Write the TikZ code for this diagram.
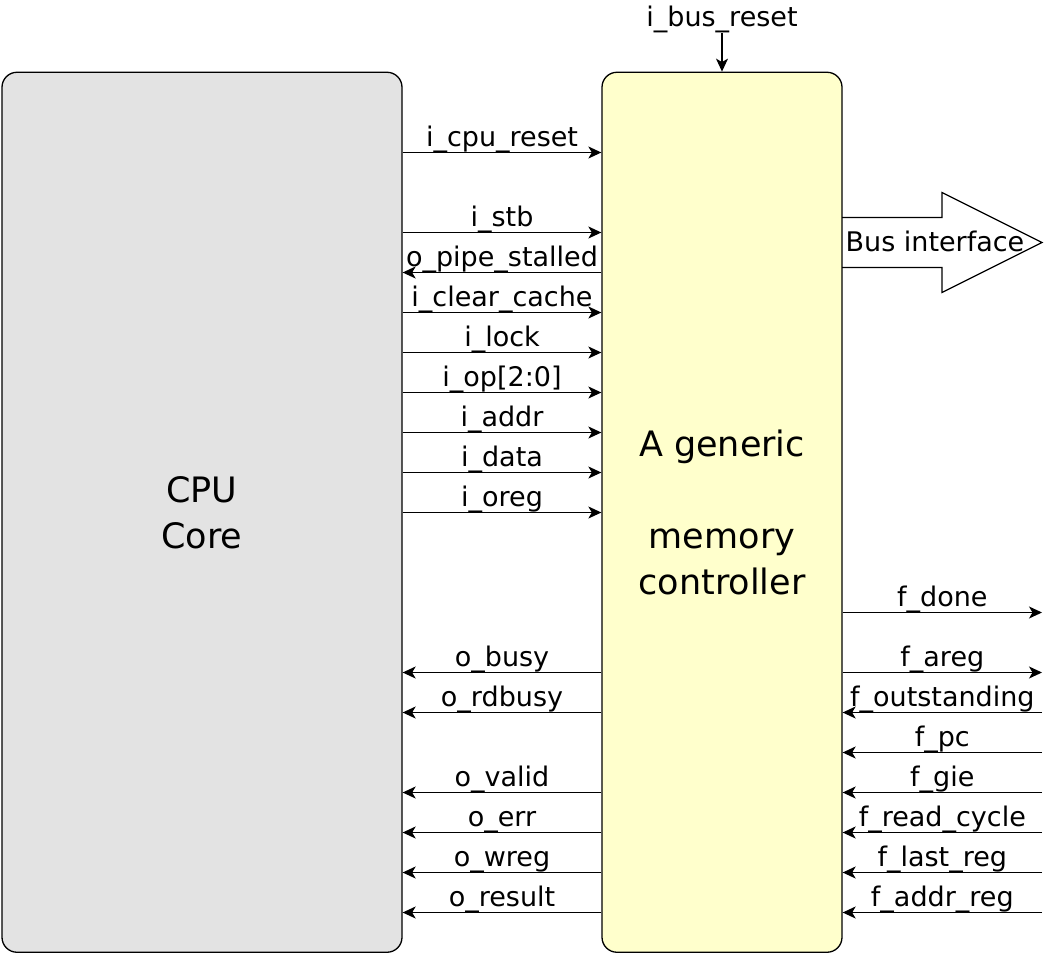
\documentclass[tikz,border=0pt]{standalone}
\usepackage{fontspec}
\setmainfont{DejaVu Sans}
\usetikzlibrary{arrows.meta}
\definecolor{cpugray}{HTML}{E3E3E3}
\definecolor{mcyellow}{HTML}{FFFFCC}
\begin{document}
\begin{tikzpicture}[x=1pt,y=-1pt,
  box/.style={draw=black, line width=1.3pt, rounded corners=15pt, inner sep=0pt, align=center,
              font=\fontsize{35}{46}\selectfont},
  sig/.style={line width=1.3pt, -{Stealth[length=13pt,width=12pt,inset=3.5pt]}},
  lbl/.style={font=\fontsize{27}{32}\selectfont, inner sep=0pt, anchor=base, yshift=6pt},
  plain/.style={font=\fontsize{27}{32}\selectfont, inner sep=0pt, anchor=base}
]
\fill[white] (0,0) rectangle (1047,954);
\useasboundingbox (0,0) rectangle (1047,954);

% main boxes
\node[box, fill=cpugray, minimum width=400pt, minimum height=880pt] (cpu) at (202,512.25) {CPU\\Core};
\node[box, fill=mcyellow, minimum width=240pt, minimum height=880pt] (mc) at (722,512.25)
  {A generic\\\mbox{}\\memory\\controller};

% bus reset
\node[plain] (busreset) at (722,26.7) {i\_bus\_reset};
\draw[sig] (busreset.south) -- (mc.north);

% left side: CPU -> controller
\foreach \i/\y/\t in {1/152.5/i\_cpu\_reset, 2/232.5/i\_stb, 3/312.5/i\_clear\_cache,
                      4/352.5/i\_lock, 5/392.5/i\_op[2:0], 6/432.5/i\_addr,
                      7/472.5/i\_data, 8/512.5/i\_oreg}{
  \coordinate (li\i) at (0,\y);
  \draw[sig] (cpu.east |- li\i) -- node[lbl]{\t} (mc.west |- li\i);
}
% left side: controller -> CPU
\foreach \i/\y/\t in {1/272.5/o\_pipe\_stalled, 2/672.5/o\_busy, 3/712.5/o\_rdbusy,
                      4/792.5/o\_valid, 5/832.5/o\_err, 6/872.5/o\_wreg, 7/912.5/o\_result}{
  \coordinate (lo\i) at (0,\y);
  \draw[sig] (mc.west |- lo\i) -- node[lbl]{\t} (cpu.east |- lo\i);
}
% right side: outputs
\foreach \i/\y/\t in {1/612.5/f\_done, 2/672.5/f\_areg}{
  \coordinate (ro\i) at (1042,\y);
  \draw[sig] (mc.east |- ro\i) -- node[lbl]{\t} (ro\i);
}
% right side: inputs
\foreach \i/\y/\t in {1/712.5/f\_outstanding, 2/752.5/f\_pc, 3/792.5/f\_gie,
                      4/832.5/f\_read\_cycle, 5/872.5/f\_last\_reg, 6/912.5/f\_addr\_reg}{
  \coordinate (ri\i) at (1042,\y);
  \draw[sig] (ri\i) -- node[lbl]{\t} (mc.east |- ri\i);
}

% bus interface block arrow
\draw[line width=1.2pt, line join=miter] (842,217.5) -- (942,217.5) -- (942,192.5) -- (1042,242.5)
  -- (942,292.5) -- (942,267.5) -- (842,267.5);
\node[plain] (bus) at (935,251.5) {Bus interface};
\end{tikzpicture}
\end{document}
